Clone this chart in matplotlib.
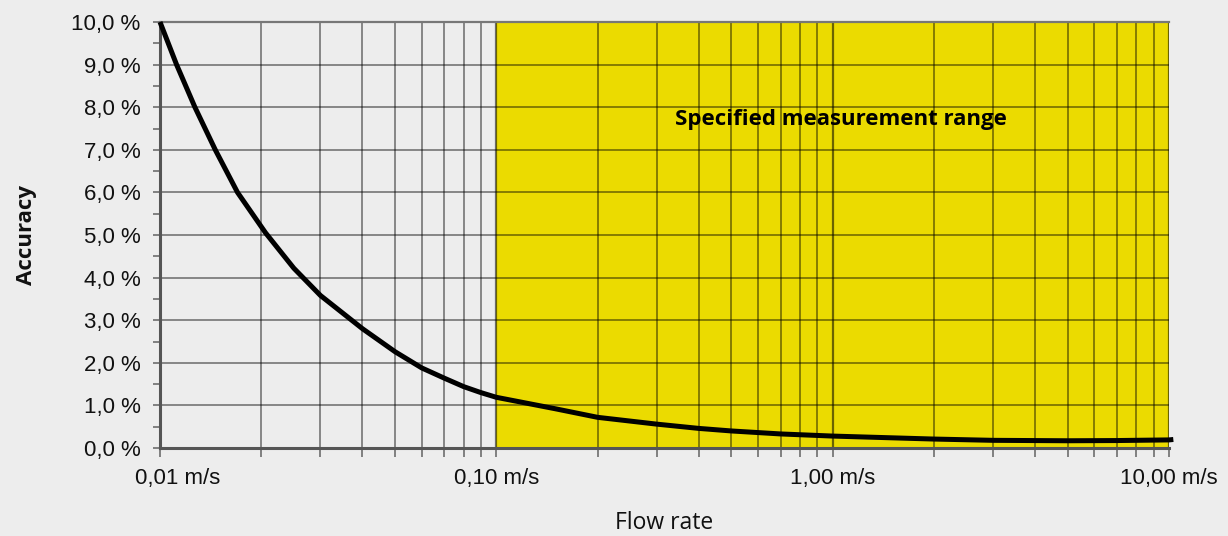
import numpy as np
import matplotlib
matplotlib.use('Agg')
import matplotlib.pyplot as plt
import matplotlib.ticker as ticker
import matplotlib.transforms as mtransforms

# values (flow rate in m/s, accuracy in %)
flow = [0.01, 0.0112, 0.0127, 0.0146, 0.017, 0.0206, 0.025, 0.03, 0.04,
        0.05, 0.06, 0.07, 0.08, 0.09, 0.1, 0.15, 0.2, 0.3, 0.4, 0.5, 0.7,
        1.0, 2.0, 3.0, 5.0, 7.0, 10.0, 10.3]
accuracy = [10.0, 9.0, 8.0, 7.0, 6.0, 5.05, 4.22, 3.58, 2.80,
            2.26, 1.88, 1.64, 1.44, 1.30, 1.19, 0.92, 0.72, 0.56, 0.46, 0.40, 0.33,
            0.28, 0.21, 0.18, 0.17, 0.175, 0.19, 0.2]

range_start, range_end = 0.1, 10.0
x_ticks = [0.01, 0.1, 1.0, 10.0]
x_labels = ['0,01 m/s', '0,10 m/s', '1,00 m/s', '10,00 m/s']
y_ticks = np.arange(0, 11, 1)

bg = '#ededed'
yellow = '#ebdb00'
grid_kw = dict(color='black', alpha=0.55)

fig = plt.figure(figsize=(12.28, 5.36), dpi=100, facecolor=bg)
ax = fig.add_axes([160 / 1228, 1 - 448 / 536, 1009 / 1228, 426 / 536])
ax.set_facecolor(bg)

ax.set_xscale('log')
ax.set_xlim(0.01, 10)
ax.set_ylim(0, 10)

ax.axvspan(range_start, range_end, color=yellow, zorder=0, lw=0)

# grid lines
for v in [m * 10.0 ** e for e in (-2, -1, 0) for m in range(2, 10)]:
    ax.axvline(v, lw=1.1, zorder=1, **grid_kw)
for v in [0.1, 1.0, 10.0]:
    ax.axvline(v, lw=1.6, zorder=1, **grid_kw)
for v in y_ticks[1:]:
    ax.axhline(v, lw=1.1, zorder=1, **grid_kw)

ax.plot(flow, accuracy, color='black', lw=3.6, zorder=5, clip_on=False,
        solid_capstyle='butt', solid_joinstyle='round')

ax.spines['right'].set_visible(False)
for s in ['left', 'bottom']:
    ax.spines[s].set_color('#555555')
    ax.spines[s].set_linewidth(2.2)
ax.spines['top'].set_color('#777777')
ax.spines['top'].set_linewidth(1.6)

ax.set_xticks(x_ticks)
ax.set_xticklabels(x_labels)
ax.xaxis.set_minor_locator(ticker.LogLocator(base=10, subs=np.arange(2, 10)))
ax.xaxis.set_minor_formatter(ticker.NullFormatter())
ax.set_yticks(y_ticks)
ax.set_yticklabels([f'{v:.1f} %'.replace('.', ',') for v in y_ticks])
ax.yaxis.set_minor_locator(ticker.MultipleLocator(0.5))

ax.tick_params(axis='both', which='both', direction='out', color='#777777', width=1.3)
ax.tick_params(axis='x', which='both', length=6.5, pad=8)
ax.tick_params(axis='y', which='both', length=5, pad=9)
for lab in ax.get_xticklabels() + ax.get_yticklabels():
    lab.set_family('Liberation Sans')
    lab.set_fontsize(16)
    lab.set_color('#111111')

# first x label sits a bit right of its tick
first = ax.get_xticklabels()[0]
first.set_transform(first.get_transform() +
                    mtransforms.ScaledTranslation(0.18, 0, fig.dpi_scale_trans))

ax.set_xlabel('Flow rate', family='Open Sans', fontsize=16.5, labelpad=16, color='#111111')
ax.set_ylabel('Accuracy', family='Open Sans', fontsize=16, fontweight='bold',
              labelpad=25, color='#111111')

ax.text(1.06, 7.72, 'Specified measurement range', family='Open Sans',
        fontsize=16, fontweight='bold', ha='center', va='center', zorder=6)

fig.savefig('out.png', dpi=100, facecolor=bg)
